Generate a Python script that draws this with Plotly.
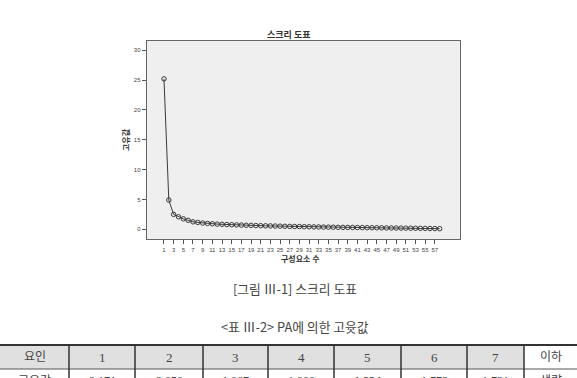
import plotly.graph_objects as go

# ---- data ----
components = list(range(1, 59))
eigenvalues = [25.2, 4.9, 2.5, 2.1, 1.75, 1.5, 1.25, 1.15, 1.05, 0.98,
               0.92, 0.87, 0.83, 0.79, 0.76, 0.73, 0.70, 0.67, 0.65, 0.62,
               0.60, 0.58, 0.56, 0.54, 0.52, 0.50, 0.48, 0.46, 0.45, 0.43,
               0.42, 0.40, 0.39, 0.37, 0.36, 0.35, 0.33, 0.32, 0.31, 0.30,
               0.29, 0.28, 0.27, 0.26, 0.25, 0.24, 0.23, 0.22, 0.21, 0.20,
               0.19, 0.18, 0.17, 0.16, 0.15, 0.13, 0.12, 0.10]
x_tickvals = list(range(1, 58, 2))
y_tickvals = [0, 5, 10, 15, 20, 25, 30]

table_header = ["요인", "1", "2", "3", "4", "5", "6", "7", "이하"]
table_values = ["고유값", "2.171", "2.050", "1.967", "1.900", "1.824", "1.772", "1.721", "생략"]
bold_col = 5

chart_title = "스크리 도표"
x_title = "구성요소 수"
y_title = "고유값"
fig_caption = "[그림 Ⅲ-1] 스크리 도표"
table_caption = "<표 Ⅲ-2> PA에 의한 고윳값"

W, H = 577, 378
def px(x):
    return x / W
def py(y):
    return 1 - y / H

fig = go.Figure()
fig.add_trace(go.Scatter(
    x=components, y=eigenvalues, mode="lines+markers",
    line=dict(color="#3a3a3a", width=1),
    marker=dict(symbol="circle-open", size=4.5, color="#3a3a3a", line=dict(width=1)),
    hoverinfo="skip", showlegend=False))

L, R, T, B = 146.7, 460, 40.7, 239.3
fig.update_layout(
    width=W, height=H, margin=dict(l=0, r=0, t=0, b=0),
    paper_bgcolor="white", plot_bgcolor="#efefef",
    font=dict(family="Noto Sans CJK KR, sans-serif", color="#333"),
    xaxis=dict(domain=[px(L), px(R)], range=[-2.57, 62.2], tickmode="array",
               tickvals=x_tickvals, ticks="outside", ticklen=4, tickcolor="#555",
               tickfont=dict(size=6, color="#444", family="Liberation Sans, sans-serif"),
               showgrid=False, zeroline=False, showline=True, linecolor="#666",
               linewidth=1, mirror=True),
    yaxis=dict(domain=[py(B), py(T)], range=[-1.68, 31.6], tickmode="array",
               tickvals=y_tickvals, ticks="outside", ticklen=4, tickcolor="#555",
               tickfont=dict(size=6, color="#444", family="Liberation Sans, sans-serif"),
               showgrid=False, zeroline=False, showline=True, linecolor="#666",
               linewidth=1, mirror=True),
)

def note(x, y, text, size, color="#333", family=None, angle=0):
    f = dict(size=size, color=color)
    if family:
        f["family"] = family
    return dict(x=px(x), y=py(y), xref="paper", yref="paper", text=text,
                showarrow=False, font=f, xanchor="center", yanchor="middle",
                textangle=angle)

ann = []
ann.append(note(288, 34, "<b>" + chart_title + "</b>", 9, "#333"))
ann.append(note(300, 258, "<b>" + x_title + "</b>", 8))
ann.append(note(125, 140, "<b>" + y_title + "</b>", 8, angle=-90))
ann.append(note(295, 288, fig_caption, 12.8, "#444"))
ann.append(note(295, 326, table_caption, 12.8, "#444"))

# ---- table ----
col_edges = [0, 69, 135, 203, 268, 334, 401, 467, 524, 577]
t_top, t_mid, t_bot = 345, 369, 393
serif = "Liberation Serif, Noto Sans CJK KR, serif"
shapes = []
for i in range(len(table_header)):
    x0, x1 = col_edges[i], col_edges[i + 1]
    fill = "#e0e0e0" if i < len(table_header) - 1 else "white"
    shapes.append(dict(type="rect", xref="paper", yref="paper",
                       x0=px(x0), x1=px(x1), y0=py(t_mid), y1=py(t_top),
                       fillcolor=fill, line=dict(width=0), layer="below"))
    cx = (x0 + x1) / 2
    hsize = 13 if table_header[i].isdigit() else 12
    ann.append(note(cx, 357, table_header[i], hsize, "#444", family=serif))
    txt = table_values[i]
    if i == bold_col:
        txt = "<b>" + txt + "</b>"
    ann.append(note(cx, 381, txt, 12, "#444", family=serif))
# lines
shapes.append(dict(type="line", xref="paper", yref="paper", x0=0, x1=1,
                   y0=py(t_top), y1=py(t_top), line=dict(color="#333", width=2)))
shapes.append(dict(type="line", xref="paper", yref="paper", x0=0, x1=1,
                   y0=py(t_mid), y1=py(t_mid), line=dict(color="#555", width=1)))
for e in col_edges[1:-1]:
    shapes.append(dict(type="line", xref="paper", yref="paper", x0=px(e), x1=px(e),
                       y0=py(t_bot), y1=py(t_top), line=dict(color="#333", width=1.5)))

fig.update_layout(annotations=ann, shapes=shapes)
fig.write_html("out.html")
